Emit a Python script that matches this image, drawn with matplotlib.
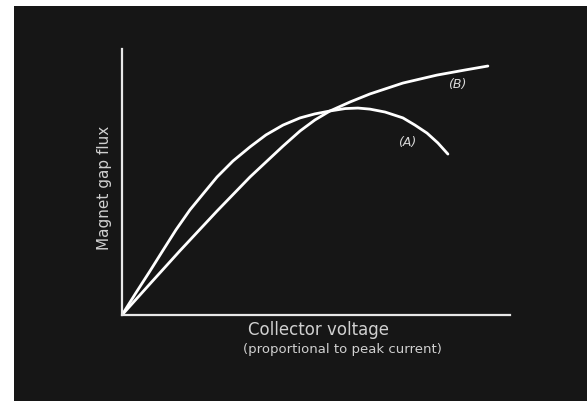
import matplotlib
matplotlib.use("Agg")
import matplotlib.pyplot as plt

# Data (arbitrary units)
curve_a_x = [0.00, 0.34, 0.72, 1.06, 1.39, 1.75, 2.11, 2.45, 2.86, 3.30, 3.71, 4.15,
             4.59, 4.97, 5.36, 5.75, 6.08, 6.39, 6.78, 7.24, 7.55, 7.86, 8.14, 8.40]
curve_a_y = [0.00, 0.79, 1.65, 2.44, 3.20, 3.95, 4.59, 5.19, 5.79, 6.32, 6.77, 7.14,
             7.41, 7.56, 7.67, 7.76, 7.78, 7.74, 7.63, 7.41, 7.14, 6.84, 6.47, 6.05]
curve_b_x = [0.00, 0.72, 1.49, 2.45, 3.30, 4.15, 4.59, 4.97, 5.36, 5.88, 6.39, 7.24,
             8.12, 8.84, 9.43]
curve_b_y = [0.00, 1.17, 2.41, 3.91, 5.19, 6.35, 6.92, 7.33, 7.67, 8.01, 8.31, 8.72,
             9.02, 9.21, 9.36]
label_a = "(A)"
label_b = "(B)"
x_label_1 = "Collector voltage"
x_label_2 = "(proportional to peak current)"
y_label = "Magnet gap flux"

W, H = 587, 401
fig = plt.figure(figsize=(W / 100, H / 100), dpi=100, facecolor="white")
bg = "#161616"

bg_ax = fig.add_axes([14 / W, 0, 1 - 14 / W, (H - 6) / H], zorder=-5)
bg_ax.set_facecolor(bg)
bg_ax.set_xticks([])
bg_ax.set_yticks([])
for s in bg_ax.spines.values():
    s.set_visible(False)

ax = fig.add_axes([122 / W, (H - 315) / H, (510 - 122) / W, (315 - 49) / H], zorder=1)
ax.patch.set_alpha(0)
ax.set_xlim(0, 10)
ax.set_ylim(0, 10)
for s in ["top", "right"]:
    ax.spines[s].set_visible(False)
for s in ["left", "bottom"]:
    ax.spines[s].set_color("#e8e8e8")
    ax.spines[s].set_linewidth(1.6)
ax.set_xticks([])
ax.set_yticks([])

ax.plot(curve_a_x, curve_a_y, color="white", lw=2.0, solid_capstyle="round", solid_joinstyle="round")
ax.plot(curve_b_x, curve_b_y, color="white", lw=2.0, solid_capstyle="round", solid_joinstyle="round")

ax.text(8.65, 8.65, label_b, color="#d8d8d8", fontsize=9, style="italic", ha="center", va="center")
ax.text(7.35, 6.5, label_a, color="#d8d8d8", fontsize=9, style="italic", ha="center", va="center")

fig.text(318 / W, 1 - 330 / H, x_label_1, color="#d0d0d0", fontsize=12, ha="center", va="center")
fig.text(342 / W, 1 - 349 / H, x_label_2, color="#d0d0d0", fontsize=9.5, ha="center", va="center")
fig.text(104 / W, 1 - 188 / H, y_label, color="#d0d0d0", fontsize=11, ha="center", va="center", rotation=90)

fig.savefig("out.png", dpi=100, facecolor=fig.get_facecolor())
